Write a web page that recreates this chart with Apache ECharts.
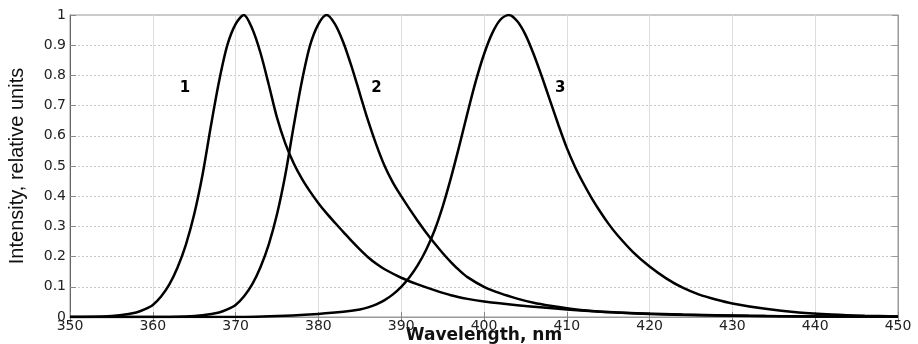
<!DOCTYPE html>
<html>
<head>
<meta charset="utf-8">
<script src="https://cdn.jsdelivr.net/npm/echarts@6/dist/echarts.min.js"></script>
<style>
  html, body { margin: 0; padding: 0; background: #fff; }
  #chart { width: 918px; height: 344px; }
</style>
</head>
<body>
<div id="chart"></div>
<script>
// Emission spectra of three samples: wavelength (nm) vs. normalised intensity
const band1Wavelength = [350, 354, 356, 358, 359, 360, 361, 362, 363, 364, 365, 366, 367, 368, 369, 370, 371, 372, 373, 374, 375, 376, 377, 378, 379, 380, 381, 382, 383, 384, 385, 386, 387, 388, 390, 392, 394, 396, 398, 400, 404, 410, 416, 424, 432, 440, 450];
const band1Intensity  = [0, 0.002, 0.006, 0.015, 0.025, 0.04, 0.068, 0.108, 0.165, 0.24, 0.34, 0.47, 0.63, 0.78, 0.9, 0.97, 1.0, 0.955, 0.875, 0.77, 0.66, 0.575, 0.51, 0.458, 0.415, 0.377, 0.343, 0.312, 0.282, 0.252, 0.224, 0.198, 0.176, 0.158, 0.13, 0.108, 0.089, 0.072, 0.06, 0.051, 0.039, 0.025, 0.015, 0.008, 0.004, 0.002, 0.001];

const band2Wavelength = [350, 360, 364, 366, 368, 369, 370, 371, 372, 373, 374, 375, 376, 377, 378, 379, 380, 381, 382, 383, 384, 385, 386, 387, 388, 389, 390, 391, 392, 393, 394, 395, 396, 397, 398, 400, 402, 404, 406, 408, 410, 413, 416, 420, 426, 434, 450];
const band2Intensity  = [0, 0, 0.002, 0.006, 0.015, 0.025, 0.04, 0.068, 0.108, 0.165, 0.24, 0.34, 0.47, 0.63, 0.78, 0.9, 0.97, 1.0, 0.97, 0.91, 0.83, 0.74, 0.65, 0.57, 0.5, 0.445, 0.4, 0.358, 0.318, 0.28, 0.245, 0.212, 0.182, 0.155, 0.132, 0.1, 0.078, 0.061, 0.047, 0.037, 0.029, 0.02, 0.015, 0.01, 0.006, 0.003, 0.001];

const band3Wavelength = [350, 370, 376, 380, 383, 385, 386, 387, 388, 389, 390, 391, 392, 393, 394, 395, 396, 397, 398, 399, 400, 401, 402, 403, 404, 405, 406, 407, 408, 409, 410, 411, 412, 413, 414, 415, 416, 418, 420, 422, 424, 426, 428, 430, 434, 438, 442, 446, 450];
const band3Intensity  = [0, 0, 0.004, 0.01, 0.017, 0.025, 0.032, 0.042, 0.056, 0.075, 0.1, 0.132, 0.172, 0.222, 0.285, 0.365, 0.46, 0.565, 0.675, 0.78, 0.87, 0.94, 0.985, 1.0, 0.98, 0.935, 0.87, 0.795, 0.715, 0.635, 0.56, 0.497, 0.443, 0.394, 0.35, 0.31, 0.275, 0.215, 0.167, 0.128, 0.097, 0.074, 0.058, 0.045, 0.027, 0.015, 0.008, 0.004, 0.002];

// Curve numbers placed beside each band
const curveTags = ['1', '2', '3'];
const curveTagX = [363.9, 387.0, 409.2];
const curveTagY = [0.758, 0.758, 0.758];

const xTickMin = 350, xTickMax = 450, xTickStep = 10;
const yTickMin = 0, yTickMax = 1, yTickStep = 0.1;

const pair = (xs, ys) => xs.map((x, i) => [x, ys[i]]);

const tickFont = { fontFamily: 'DejaVu Sans', fontSize: 14, color: '#222' };

const chart = echarts.init(document.getElementById('chart'), null, { renderer: 'canvas' });

const lineStyle = { color: '#000', width: 2.5 };

chart.setOption({
  animation: false,
  backgroundColor: '#fff',
  grid: {
    left: 70, right: 20, top: 15, bottom: 27,
    outerBoundsMode: 'none',
    show: true, borderColor: '#999', borderWidth: 1
  },
  xAxis: [
    {
      type: 'value', min: xTickMin, max: xTickMax, interval: xTickStep,
      name: 'Wavelength, nm', nameLocation: 'middle', nameGap: 10, nameMoveOverlap: false,
      nameTextStyle: { fontFamily: 'DejaVu Sans', fontWeight: 'bold', fontSize: 17, color: '#111' },
      axisLine: { show: true, lineStyle: { color: '#444', width: 1 } },
      axisTick: { show: true, inside: true, length: 5, lineStyle: { color: '#888' } },
      axisLabel: Object.assign({ margin: 2, formatter: v => String(v) }, tickFont),
      splitLine: { show: true, lineStyle: { color: '#ddd', width: 1, type: 'solid' } }
    },
    {
      type: 'value', position: 'top', min: xTickMin, max: xTickMax, interval: xTickStep,
      axisLine: { show: true, lineStyle: { color: '#999' } },
      axisTick: { show: true, inside: true, length: 5, lineStyle: { color: '#888' } },
      axisLabel: { show: false }, splitLine: { show: false }
    }
  ],
  yAxis: [
    {
      type: 'value', min: yTickMin, max: yTickMax, interval: yTickStep,
      name: 'Intensity, relative units', nameLocation: 'middle', nameGap: 43, nameRotate: 90, nameMoveOverlap: false,
      nameTextStyle: { fontFamily: 'Liberation Sans Narrow, Liberation Sans', fontSize: 20, color: '#111' },
      axisLine: { show: true, lineStyle: { color: '#666', width: 1 } },
      axisTick: { show: true, inside: true, length: 6, lineStyle: { color: '#888' } },
      axisLabel: Object.assign({ margin: 4, formatter: v => String(Math.round(v * 10) / 10) }, tickFont),
      splitLine: { show: true, lineStyle: { color: '#c8c8c8', width: 1, type: [2, 2] } }
    },
    {
      type: 'value', position: 'right', min: yTickMin, max: yTickMax, interval: yTickStep,
      axisLine: { show: true, lineStyle: { color: '#999' } },
      axisTick: { show: true, inside: true, length: 6, lineStyle: { color: '#999' } },
      axisLabel: { show: false }, splitLine: { show: false }
    }
  ],
  series: [
    { type: 'line', name: '1', data: pair(band1Wavelength, band1Intensity), smooth: 0.3, showSymbol: false, lineStyle, z: 3 },
    { type: 'line', name: '2', data: pair(band2Wavelength, band2Intensity), smooth: 0.3, showSymbol: false, lineStyle, z: 3 },
    { type: 'line', name: '3', data: pair(band3Wavelength, band3Intensity), smooth: 0.3, showSymbol: false, lineStyle, z: 3 },
    {
      type: 'scatter', symbolSize: 0, silent: true, z: 4,
      data: curveTags.map((t, i) => ({ value: [curveTagX[i], curveTagY[i]], name: t })),
      itemStyle: { opacity: 1 },
      label: {
        show: true, position: 'inside', formatter: p => p.name,
        fontFamily: 'DejaVu Sans', fontWeight: 'bold', fontSize: 15, color: '#000',
        textBorderWidth: 0, opacity: 1
      }
    }
  ]
});
</script>
</body>
</html>
